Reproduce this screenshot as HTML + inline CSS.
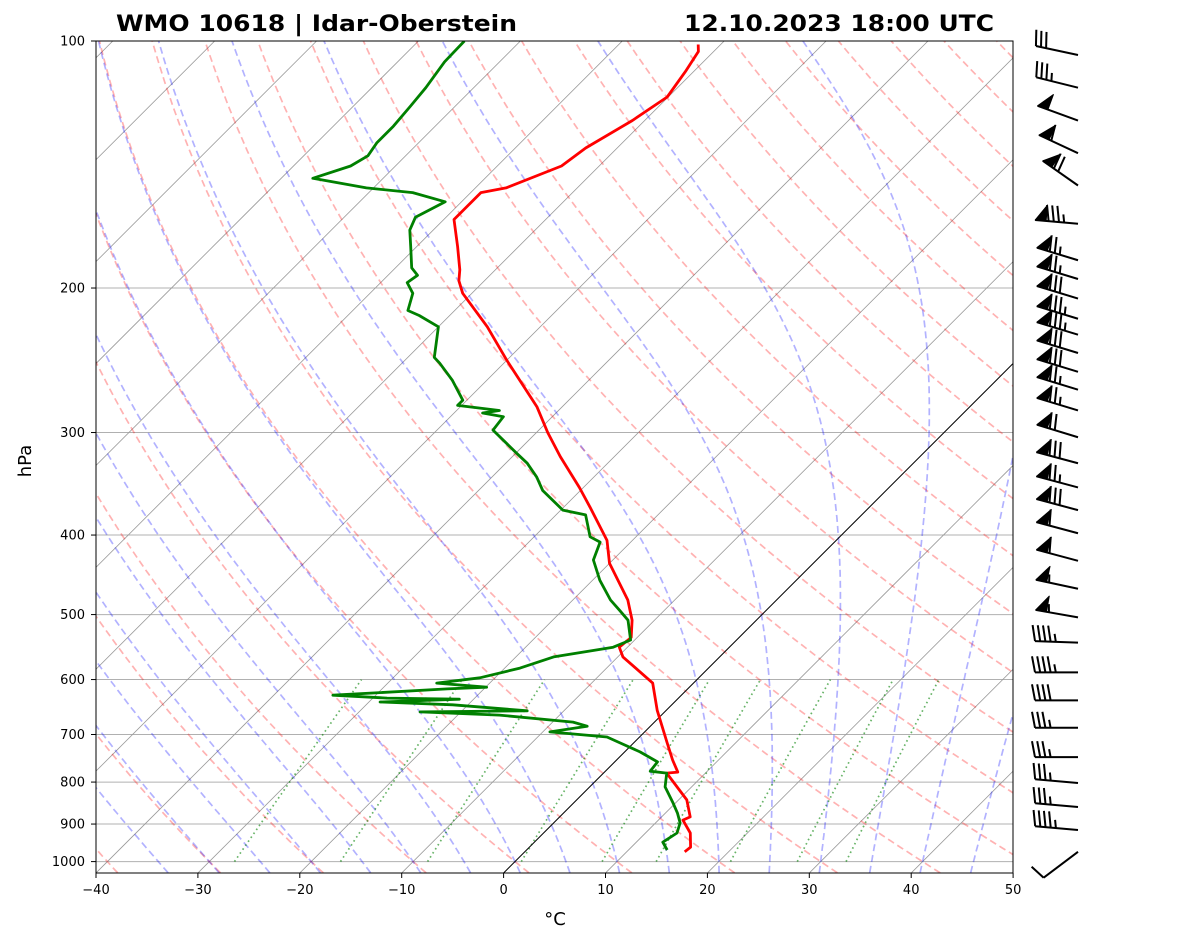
<!DOCTYPE html>
<html><head><meta charset="utf-8">
<style>
html,body{margin:0;padding:0;background:#fff;}
svg{display:block;font-family:"DejaVu Sans","Liberation Sans",sans-serif;}
</style></head>
<body>
<svg id="chart" width="1181" height="941" viewBox="0 0 1181 941" xmlns="http://www.w3.org/2000/svg">
<defs><clipPath id="plotclip"><rect x="96" y="41" width="917" height="832"/></clipPath></defs>
<rect width="1181" height="941" fill="#fff"/>
<text x="116" y="31" font-size="22" font-weight="bold" textLength="401" lengthAdjust="spacingAndGlyphs">WMO 10618 | Idar-Oberstein</text>
<text x="684" y="31" font-size="22" font-weight="bold" textLength="310" lengthAdjust="spacingAndGlyphs">12.10.2023 18:00 UTC</text>
<g id="bg" clip-path="url(#plotclip)"></g>
<g id="profiles" clip-path="url(#plotclip)"></g>
<rect x="96" y="41" width="917" height="832" fill="none" stroke="#000" stroke-width="1"/>
<g id="axes"></g>
<g id="barbs"></g>
<text transform="translate(31,461) rotate(-90)" text-anchor="middle" font-size="18">hPa</text>
<text x="555" y="925" text-anchor="middle" font-size="18">°C</text>
</svg>
<script>
// ---- data ----
const tempP = [973,960,923,890,882,841,780,778,752,717,654,606,563,548,533,508,480,433,406,370,350,321,300,279,245,223,203,196,190,178,165,153,151,142,135,125,117,109,103,101];
const tempT = [15.7,15.8,14.4,12.4,12.8,10.8,6.2,7.2,5.5,3.3,-0.9,-4.0,-9.5,-10.8,-10.6,-12.2,-14.6,-20.0,-22.5,-27.4,-30.4,-35.3,-38.9,-42.5,-50.0,-55.2,-60.9,-62.5,-63.5,-66.0,-69.0,-69.0,-67.0,-63.7,-63.1,-61.2,-60.1,-60.8,-61.5,-62.2];
const dewP = [968,947,923,897,873,849,811,780,776,756,735,717,705,695,684,676,663,657,655,644,639,634,632,627,616,613,606,597,581,563,548,537,508,494,480,454,429,408,402,378,373,353,340,327,318,298,287,284,282,278,274,259,247,243,223,216,213,203,197,193,189,178,170,164,157,153,151,147,142,138,133,127,120,114,106,100];
const dewT = [13.8,12.6,13.1,12.4,11.2,9.8,7.4,6.2,4.4,4.2,1.5,-1.3,-3.2,-9.3,-6.2,-8.0,-15.9,-24.0,-13.6,-21.5,-28.9,-21.4,-28.6,-34.2,-23.6,-19.9,-25.2,-21.5,-18.5,-16.3,-11.4,-10.4,-12.6,-14.4,-16.3,-19.3,-21.9,-23.0,-24.5,-27.1,-29.8,-33.7,-35.6,-37.9,-39.9,-44.5,-44.8,-47.2,-45.8,-50.4,-50.4,-53.4,-56.3,-57.4,-60.0,-63.0,-64.6,-65.8,-67.4,-67.1,-68.4,-70.6,-72.3,-73.0,-71.6,-75.7,-80.7,-86.9,-84.4,-83.7,-84.1,-84.1,-84.4,-84.7,-85.4,-85.5];
const barbP = [104,114,125,137,150,167,185,195,206,218,228,240,253,266,282,304,327,350,373,398,430,465,504,541,588,636,687,746,802,858,915,973];
const barbSpd = [30,35,50,60,70,85,75,75,80,85,85,80,80,75,75,70,80,75,80,60,60,55,55,45,45,40,35,35,35,35,45,10];
const barbDir = [282,284,290,295,305,275,287,287,287,287,287,287,287,287,287,287,285,285,285,285,285,282,280,272,270,270,270,270,275,275,275,233];
const pTicks = [100,200,300,400,500,600,700,800,900,1000];
const tTicks = [-40,-30,-20,-10,0,10,20,30,40,50];
const dryT0 = [-40,-30,-20,-10,0,10,20,30,40,50,60,70,80,90,100,110,120,130,140,150,160,170,180,190,200];
const moistT0 = [-35,-30,-25,-20,-15,-10,-5,0,5,10,15,20,25,30,35,40,45];
const mixW = [0.0004,0.001,0.002,0.004,0.007,0.01,0.016,0.024,0.032];

// ---- axes ----
const PBOT = 1032;
function yOf(p){return 41 + 820.6*Math.log10(p/100);}
function xOf(T,p){return 96 + (T+40)*10.19 + (873 - yOf(p));}
const NS="http://www.w3.org/2000/svg";
function mk(tag,attrs,parent){const e=document.createElementNS(NS,tag);for(const k in attrs)e.setAttribute(k,attrs[k]);parent.appendChild(e);return e;}
function pathD(ps,ts){let d="";for(let i=0;i<ps.length;i++){d+=(i?"L":"M")+xOf(ts[i],ps[i]).toFixed(1)+","+yOf(ps[i]).toFixed(1);}return d;}
const bg=document.getElementById('bg'), prof=document.getElementById('profiles'), axes=document.getElementById('axes'), barbs=document.getElementById('barbs');

pTicks.forEach(p=>{
  const l=mk('line',{x1:96,x2:1013,y1:yOf(p),y2:yOf(p),stroke:'#b0b0b0','stroke-width':1},bg);
  
  
});
for(let T=-130;T<=50;T+=10){
  const l=mk('line',{x1:xOf(T,PBOT),y1:yOf(PBOT),x2:xOf(T,100),y2:yOf(100),stroke:'#999','stroke-width':0.8},bg);
  
  
}
const levs=[];for(let p=PBOT;p>=100;p-=8)levs.push(p);levs.push(100);
dryT0.forEach(t0=>{
  const ts=levs.map(p=>(t0+273.15)*Math.pow(p/1000,0.2857)-273.15);
  const e=mk('path',{d:pathD(levs,ts),fill:'none',stroke:'#ff0000','stroke-opacity':0.3,'stroke-width':1.7,'stroke-dasharray':'7,4'},bg);
  
  
});
function es(Tc){return 6.112*Math.exp(17.67*Tc/(Tc+243.5));}
function dTdp(T,p){const Tc=T-273.15;const e=es(Tc);const rs=0.622*e/(p-e);const Rd=287.04,Cp=1005.7,Lv=2.501e6;
  return (Rd*T+Lv*rs)/(p*(Cp+Lv*Lv*rs*0.622/(Rd*T*T)));}
function integ(T0,pts){const out=[T0];let T=T0;for(let i=1;i<pts.length;i++){const p0=pts[i-1],h=pts[i]-p0;
  const k1=dTdp(T,p0),k2=dTdp(T+h*k1/2,p0+h/2),k3=dTdp(T+h*k2/2,p0+h/2),k4=dTdp(T+h*k3,p0+h);T+=h*(k1+2*k2+2*k3+k4)/6;out.push(T);}return out;}
moistT0.forEach(t0=>{
  const up=[];for(let p=1000;p>=100;p-=5)up.push(p);
  const dn=[1000,1010,1020,PBOT];
  const tu=integ(t0+273.15,up).map(t=>t-273.15);
  const td=integ(t0+273.15,dn).map(t=>t-273.15);
  const ps=dn.slice().reverse().concat(up.slice(1)), ts=td.slice().reverse().concat(tu.slice(1));
  const e=mk('path',{d:pathD(ps,ts),fill:'none',stroke:'#0000ff','stroke-opacity':0.3,'stroke-width':1.7,'stroke-dasharray':'7,4'},bg);
  
  
});
mixW.forEach(w=>{
  const ps=[],ts=[];for(let p=1000;p>=600;p-=20){const e=w*p/(0.622+w);const a=Math.log(e/6.112);ps.push(p);ts.push(243.5*a/(17.67-a));}
  const e=mk('path',{d:pathD(ps,ts),fill:'none',stroke:'#008000','stroke-opacity':0.6,'stroke-width':1.7,'stroke-dasharray':'1.6,3.2'},bg);
  
  
});
const z=mk('line',{x1:xOf(0,PBOT),y1:yOf(PBOT),x2:xOf(0,100),y2:yOf(100),stroke:'#000','stroke-width':1},bg);



const tl=mk('path',{d:pathD(tempP,tempT),fill:'none',stroke:'#ff0000','stroke-width':2.8,'stroke-linejoin':'round'},prof);


const dl=mk('path',{d:pathD(dewP,dewT),fill:'none',stroke:'#008000','stroke-width':2.8,'stroke-linejoin':'round'},prof);



pTicks.forEach(p=>{
  const y=yOf(p);
  const t=mk('line',{x1:91,x2:96,y1:y,y2:y,stroke:'#000','stroke-width':1},axes);
  
  
  const tx=mk('text',{x:85,y:y+4.5,'text-anchor':'end','font-size':13},axes);
  tx.textContent=String(p);
  
  
});
tTicks.forEach(T=>{
  const x=96+(T+40)*10.19;
  const t=mk('line',{x1:x,x2:x,y1:873,y2:878,stroke:'#000','stroke-width':1},axes);
  
  
  const tx=mk('text',{x:x,y:894,'text-anchor':'middle','font-size':13},axes);
  tx.textContent=(T<0?'\u2212'+(-T):String(T));
  
  
});

const L=43, BH=16, SP=5.2, FW=11;
barbP.forEach((p,i)=>{
  const ax=1078, ay=yOf(p);
  const d=barbDir[i]*Math.PI/180;
  const ux=Math.sin(d), uy=-Math.cos(d);
  let nx=-uy, ny=ux; if(ny>0){nx=-nx;ny=-ny;}
  const g=mk('g',{},barbs);
  
  
  const ex=ax+ux*L, ey=ay+uy*L;
  let s=Math.round(barbSpd[i]/5)*5;
  const flags=Math.floor(s/50); s-=flags*50;
  const full=Math.floor(s/10); s-=full*10;
  const half=s>=5?1:0;
  mk('line',{x1:ax,y1:ay,x2:ex,y2:ey,stroke:'#000','stroke-width':2},g);
  let pos=0;
  for(let f=0;f<flags;f++){
    const b0x=ex-ux*pos, b0y=ey-uy*pos, b1x=ex-ux*(pos+FW), b1y=ey-uy*(pos+FW);
    mk('polygon',{points:`${b0x},${b0y} ${b1x},${b1y} ${b1x+nx*BH},${b1y+ny*BH}`,fill:'#000',stroke:'#000','stroke-width':1,'stroke-linejoin':'round'},g);
    pos+=FW+2.5;
  }
  if(flags===0&&full===0&&half===1)pos+=SP;
  for(let k=0;k<full;k++){
    const bx=ex-ux*pos, by=ey-uy*pos;
    mk('line',{x1:bx,y1:by,x2:bx+nx*BH+ux*3,y2:by+ny*BH+uy*3,stroke:'#000','stroke-width':2},g);
    pos+=SP;
  }
  if(half){
    const bx=ex-ux*pos, by=ey-uy*pos;
    mk('line',{x1:bx,y1:by,x2:bx+nx*BH/2+ux*1.5,y2:by+ny*BH/2+uy*1.5,stroke:'#000','stroke-width':2},g);
  }
});
</script>
</body></html>
